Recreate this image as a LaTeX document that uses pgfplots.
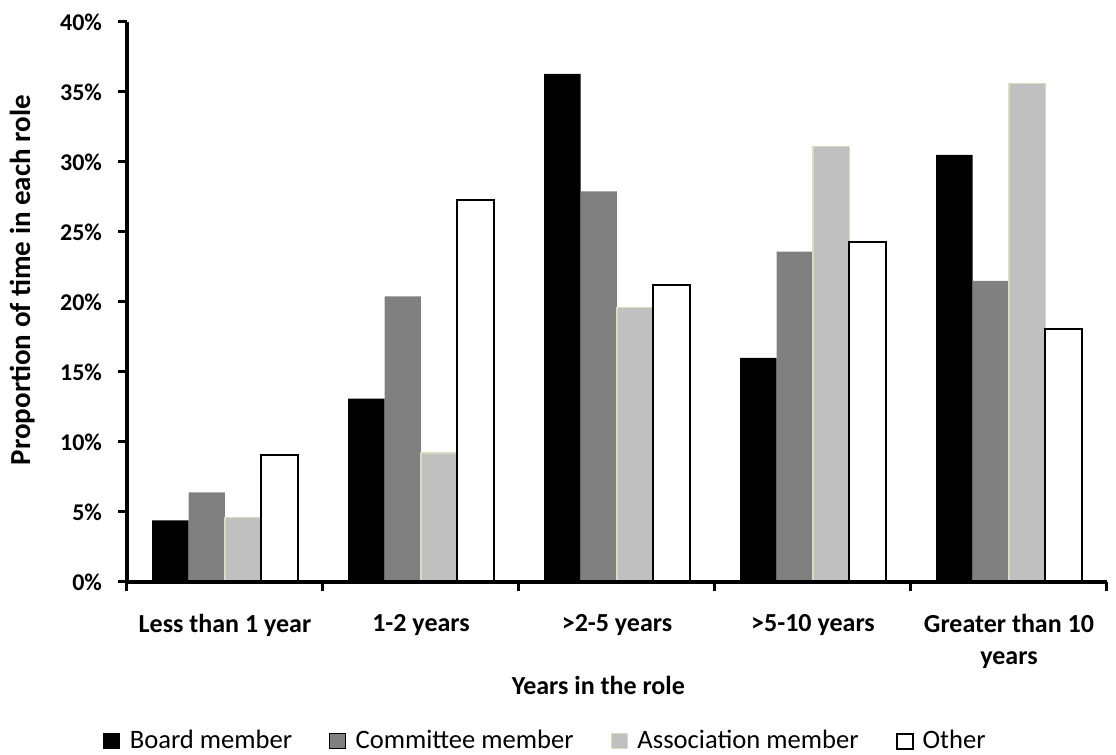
\documentclass[border=0pt]{standalone}
\usepackage{fontspec}
\setmainfont{Carlito}
\usepackage{pgfplots}
\pgfplotsset{compat=1.18}
\definecolor{assoc}{RGB}{192,192,192}
\definecolor{assocedge}{RGB}{221,217,195}
\definecolor{comm}{RGB}{128,128,128}
\begin{document}
\begin{tikzpicture}
\path[use as bounding box] (0,0) rectangle (558pt,377.5pt);
\begin{axis}[
  at={(63.5pt,86.5pt)}, anchor=south west,
  scale only axis, width=490pt, height=280pt,
  xmin=-0.5, xmax=4.5, ymin=0, ymax=40,
  axis x line*=bottom, axis y line*=left,
  clip=false,
  axis line style={draw=none},
  tick align=outside, major tick length=4.5pt,
  every tick/.append style={line width=1.5pt, black},
  major tick style={line width=1.5pt, black},
  ytick={0,5,...,40},
  yticklabels={0\%,5\%,10\%,15\%,20\%,25\%,30\%,35\%,40\%},
  yticklabel style={font=\bfseries\fontsize{12}{14}\selectfont, xshift=-4.5pt},
  xtick={-0.5,0.5,1.5,2.5,3.5,4.5},
  x tick label as interval,
  xticklabels={Less than 1 year,1-2 years,>2-5 years,>5-10 years,{Greater than 10\\years}},
  xticklabel style={align=center, anchor=north, yshift=-8pt, font=\bfseries\fontsize{13}{16}\selectfont},
  ylabel={Proportion of time in each role},
  ylabel style={at={(axis description cs:-0.107,0.539)}, anchor=center, font=\bfseries\fontsize{14.5}{16}\selectfont},
  xlabel={Years in the role},
  xlabel style={at={(axis description cs:0.481,-0.184)}, anchor=center, font=\bfseries\fontsize{13}{15}\selectfont},
  ybar=0pt, bar width=0.186,
  legend columns=4,
  legend style={at={(axis description cs:-0.0265,-0.284)}, anchor=west, draw=none,
    font=\fontsize{13.3}{14}\selectfont, inner sep=1pt,
    /tikz/every even column/.append style={column sep=16.5pt}},
  legend image code/.code={\draw[#1] (0pt,-3.75pt) rectangle (8pt,3.75pt); \path[draw=none, fill=none] (8pt,0pt) rectangle (11pt,0.1pt);},
  legend cell align=left,
]
\addplot[fill=black, draw=none] coordinates {(0,4.4) (1,13.1) (2,36.3) (3,16.0) (4,30.5)};
\addplot[fill=comm, draw=none] coordinates {(0,6.4) (1,20.4) (2,27.9) (3,23.6) (4,21.5)};
\addplot[fill=assoc, draw=assocedge, line width=0.8pt] coordinates {(0,4.6) (1,9.2) (2,19.6) (3,31.1) (4,35.6)};
\addplot[fill=white, draw=black, line width=1pt] coordinates {(0,9.1) (1,27.3) (2,21.2) (3,24.3) (4,18.1)};
\legend{Board member, Committee member, Association member, Other}
\draw[line width=1.8pt, black] (rel axis cs:0,1) -- (rel axis cs:0,0) -- (rel axis cs:1,0);
\end{axis}
\end{tikzpicture}
\end{document}
